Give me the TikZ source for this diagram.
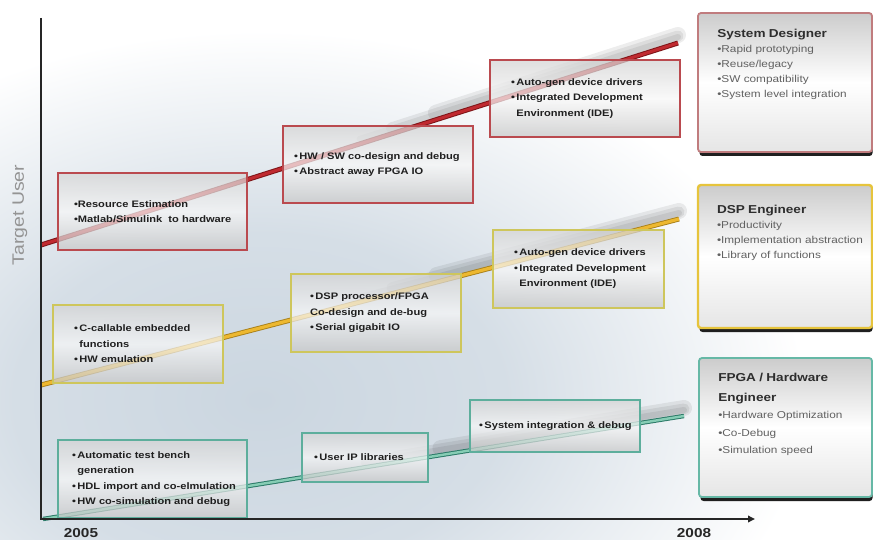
\documentclass[tikz,border=0pt]{standalone}
\usepackage{fontspec}
\setmainfont{Liberation Sans}
\newfontfamily\widesans{Liberation Sans}[FakeStretch=1.18]
\usetikzlibrary{arrows.meta,calc}

\definecolor{trendred}{HTML}{C02A30}
\definecolor{reddark}{HTML}{7E1518}
\definecolor{trendgold}{HTML}{EDB830}
\definecolor{golddark}{HTML}{A8801A}
\definecolor{trendteal}{HTML}{86CDB5}
\definecolor{tealdark}{HTML}{2C7A68}
\definecolor{redframe}{HTML}{BA4A4F}
\definecolor{goldframe}{HTML}{CEC65C}
\definecolor{tealframe}{HTML}{5DAE9C}
\definecolor{sdframe}{HTML}{C07C7E}
\definecolor{dspframe}{HTML}{E6C43C}
\definecolor{fpgaframe}{HTML}{66B8A6}
\definecolor{haze}{HTML}{CBD6E0}

% soft watermark glow: tinted core fading to white well inside the path
\pgfdeclareradialshading{hazeglow}{\pgfpoint{0bp}{0bp}}{%
  color(0bp)=(haze); color(10bp)=(haze!80!white); color(22bp)=(white);
  color(50bp)=(white)}

\begin{document}
\begin{tikzpicture}[x=1pt, y=-1pt,
  stage/.style={line width=2.4pt, inner sep=0pt,
    top color=black!17, bottom color=black!22, middle color=black!3,
    fill opacity=0.72},
  redstage/.style={stage, draw=redframe},
  goldstage/.style={stage, draw=goldframe},
  tealstage/.style={stage, draw=tealframe},
  stagetext/.style={anchor=west, align=left, inner sep=0pt, text=black!88,
    font=\widesans\bfseries\fontsize{9.4}{15.5}\selectfont},
  panel/.style={rounded corners=3pt, line width=1.8pt, inner sep=0pt,
    top color=black!20, bottom color=black!10, middle color=white},
  panelshadow/.style={rounded corners=3pt, fill=black!88, inner sep=0pt},
  paneltext/.style={anchor=north west, align=left, inner sep=0pt,
    text width=150pt, text=black!62,
    font=\widesans\fontsize{10}{15}\selectfont},
  trendshade/.style={line cap=round, draw=black, draw opacity=0.07},
  axis/.style={line width=2.4pt, draw=black!85},
  year/.style={font=\widesans\bfseries\fontsize{13}{13}\selectfont, text=black!85}
]
\useasboundingbox (0,0) rectangle (873,540);
\fill[white] (0,0) rectangle (873,540);

% pale watermark behind the timeline
\begin{scope}
  \clip (0,0) rectangle (873,540);
  \shade[shading=hazeglow] (260,400) ellipse [x radius=620, y radius=420];
\end{scope}

% trend lines
\coordinate (redA) at (41,245);  \coordinate (redB) at (678,43);
\coordinate (goldA) at (41,385); \coordinate (goldB) at (679,219);
\coordinate (tealA) at (43,519); \coordinate (tealB) at (684,416);

\foreach \a/\b in {redA/redB, goldA/goldB, tealA/tealB}{
  \draw[trendshade, line width=16pt] ([yshift=7pt]$(\a)!0.62!(\b)$) -- ([yshift=8pt]\b);
  \draw[trendshade, line width=11pt] ([yshift=6pt]$(\a)!0.55!(\b)$) -- ([yshift=7pt]\b);
  \draw[trendshade, line width=6pt] ([yshift=5pt]$(\a)!0.5!(\b)$) -- ([yshift=6pt]\b);
}
\draw[reddark, line width=5pt] (redA) -- (redB);
\draw[trendred, line width=3pt] (redA) -- (redB);
\draw[golddark, line width=5pt] (goldA) -- (goldB);
\draw[trendgold, line width=3.2pt] (goldA) -- (goldB);
\draw[tealdark, line width=4.4pt] (tealA) -- (tealB);
\draw[trendteal, line width=2.4pt] (tealA) -- (tealB);

% milestone boxes
\node[redstage, minimum width=189pt, minimum height=77pt] (r1) at (152.5,211.5) {};
\node[redstage, minimum width=190pt, minimum height=77pt] (r2) at (378,164.5) {};
\node[redstage, minimum width=190pt, minimum height=77pt] (r3) at (585,98.5) {};
\node[goldstage, minimum width=170pt, minimum height=78pt] (g1) at (138,344) {};
\node[goldstage, minimum width=170pt, minimum height=78pt] (g2) at (376,313) {};
\node[goldstage, minimum width=171pt, minimum height=78pt] (g3) at (578.5,269) {};
\node[tealstage, minimum width=189pt, minimum height=78pt] (t1) at (152.5,479) {};
\node[tealstage, minimum width=126pt, minimum height=49pt] (t2) at (365,457.5) {};
\node[tealstage, minimum width=170pt, minimum height=52pt] (t3) at (555,426) {};

\node[stagetext] at ([xshift=17pt]r1.west) {•Resource Estimation\\•Matlab/Simulink\ \ to hardware};
\node[stagetext] at ([xshift=12pt]r2.west) {•\,HW / SW co-design and debug\\•\,Abstract away FPGA IO};
\node[stagetext] at ([xshift=22pt]r3.west) {•\,Auto-gen device drivers\\•\,Integrated Development\\\hphantom{•\,}Environment (IDE)};
\node[stagetext] at ([xshift=22pt]g1.west) {•\,C-callable embedded\\\hphantom{•\,}functions\\•\,HW emulation};
\node[stagetext] at ([xshift=20pt]g2.west) {•\,DSP processor/FPGA\\Co-design and de-bug\\•\,Serial gigabit IO};
\node[stagetext] at ([xshift=22pt]g3.west) {•\,Auto-gen device drivers\\•\,Integrated Development\\\hphantom{•\,}Environment (IDE)};
\node[stagetext] at ([xshift=15pt]t1.west) {•\,Automatic test bench\\\hphantom{•\,}generation\\•\,HDL import and co-elmulation\\•\,HW co-simulation and debug};
\node[stagetext] at ([xshift=13pt]t2.west) {•\,User IP libraries};
\node[stagetext] at ([xshift=10pt]t3.west) {•\,System integration \& debug};

% axes
\coordinate (ytop) at (41,18);
\coordinate (origin) at (41,519);
\coordinate (xend) at (755,519);
\draw[axis, -{Triangle[length=7pt,width=6.5pt]}] (ytop) -- (origin) -- (xend);
\node[rotate=90, text=black!42, font=\widesans\fontsize{16.5}{16.5}\selectfont] (ylabel) at (20,215) {Target User};
\node[year] (y2005) at (81,533) {2005};
\node[year] (y2008) at (694,533) {2008};

% target user panels
\node[panelshadow, minimum width=173pt, minimum height=139pt] (sds) at (786,86.5) {};
\node[panel, draw=sdframe, minimum width=174pt, minimum height=139pt] (sd) at (785,82.5) {};
\node[panelshadow, minimum width=173pt, minimum height=143pt] (dsps) at (786,260.5) {};
\node[panel, draw=dspframe, line width=2.4pt, minimum width=174pt, minimum height=143pt] (dsp) at (785,256.5) {};
\node[panelshadow, minimum width=172pt, minimum height=139pt] (fpgas) at (786.5,431.5) {};
\node[panel, draw=fpgaframe, minimum width=173pt, minimum height=139pt] (fpga) at (785.5,427.5) {};

\node[paneltext] at ([xshift=20pt,yshift=-16.5pt]sd.north west)
  {{\fontsize{11.5}{15}\selectfont\bfseries\color{black!82}System Designer\par}
   •Rapid prototyping\par •Reuse/legacy\par •SW compatibility\par •System level integration\par};
\node[paneltext] at ([xshift=20pt,yshift=-21.5pt]dsp.north west)
  {{\fontsize{11.5}{15}\selectfont\bfseries\color{black!82}DSP Engineer\par}
   •Productivity\par •Implementation abstraction\par •Library of functions\par};
\node[paneltext, font=\widesans\fontsize{10}{17.5}\selectfont] at ([xshift=20pt,yshift=-15.5pt]fpga.north west)
  {{\fontsize{11.5}{20}\selectfont\bfseries\color{black!82}FPGA / Hardware\par Engineer\par}
   •Hardware Optimization\par •Co-Debug\par •Simulation speed\par};
\end{tikzpicture}
\end{document}
